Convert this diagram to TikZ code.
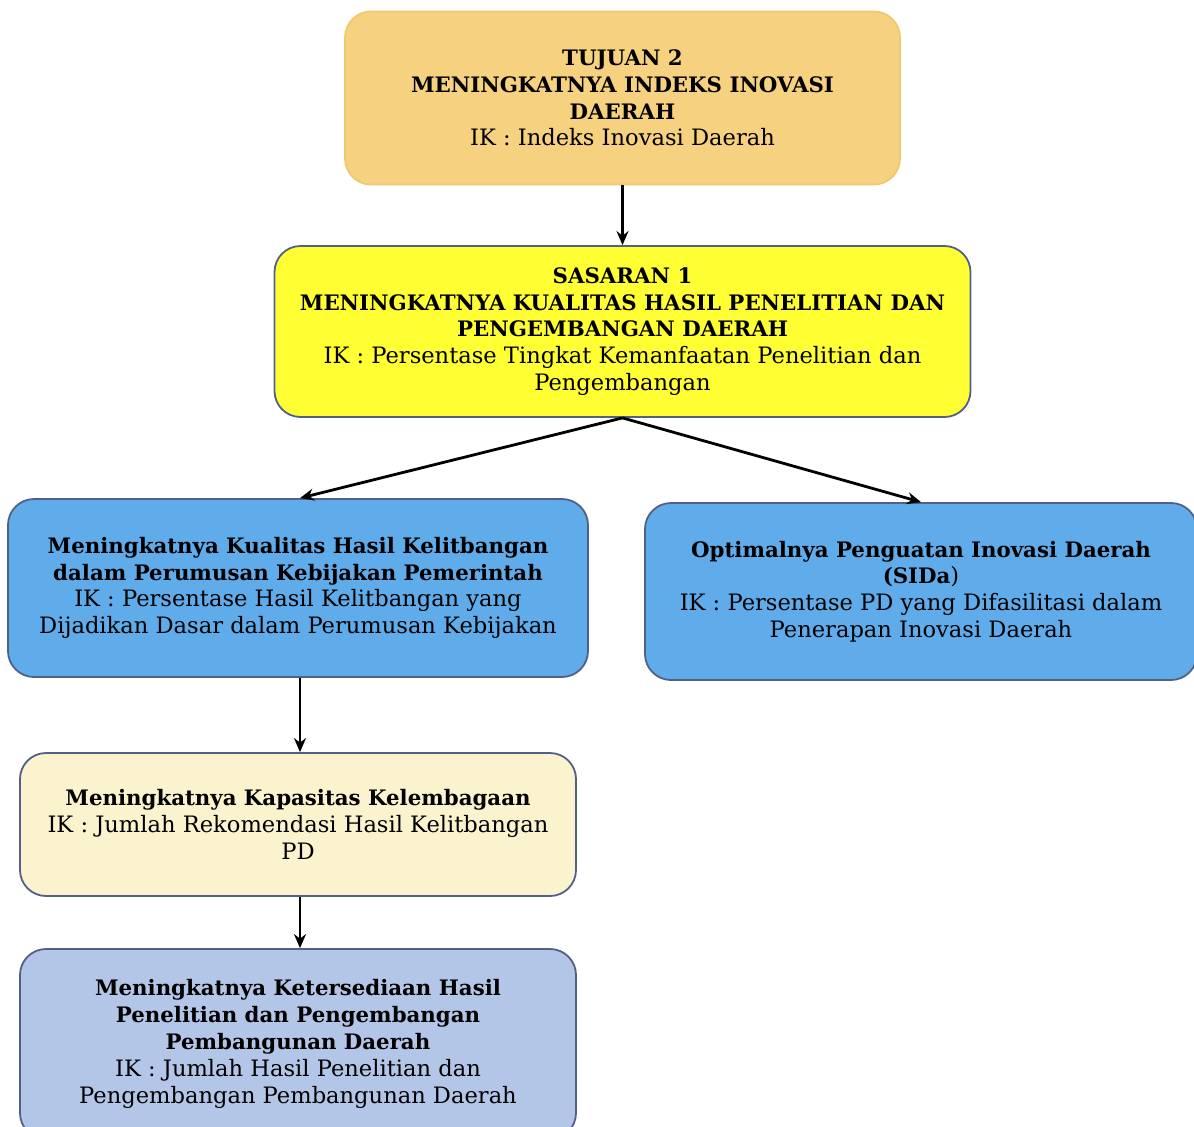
\documentclass[tikz,border=0pt]{standalone}
\usepackage{fontspec}
\setmainfont{DejaVu Serif}
\usetikzlibrary{arrows.meta}
\definecolor{tujuanfill}{RGB}{246,209,128}
\definecolor{tujuanline}{RGB}{240,200,110}
\definecolor{sasaranfill}{RGB}{255,255,51}
\definecolor{boxline}{RGB}{80,96,135}
\definecolor{bluefill}{RGB}{96,172,234}
\definecolor{creamfill}{RGB}{251,242,206}
\definecolor{lavfill}{RGB}{180,198,231}
% heading lines are set bold and slightly smaller than the indicator lines
\newcommand{\hd}[1]{{\fontsize{21.3}{26.8}\selectfont\bfseries #1}}
\tikzset{
  box/.style={draw=boxline, line width=1.8pt, rounded corners=26pt, align=center,
    inner sep=0pt, font=\fontsize{22.6}{26.8}\selectfont},
  link/.style={line width=2.8pt, -{Stealth[length=14pt,width=12pt]}}
}
\begin{document}
\begin{tikzpicture}[x=1pt,y=-1pt]
\useasboundingbox (0,0) rectangle (1194,1127);
% goal
\node[box, draw=tujuanline, fill=tujuanfill, minimum width=555pt, minimum height=173pt] (tuj) at (622.5,98)
  {\hd{TUJUAN 2}\\\hd{MENINGKATNYA INDEKS INOVASI}\\\hd{DAERAH}\\IK : Indeks Inovasi Daerah};
% target
\node[box, fill=sasaranfill, minimum width=696pt, minimum height=171pt] (sas) at (622.5,331.5)
  {\hd{SASARAN 1}\\\hd{MENINGKATNYA KUALITAS HASIL PENELITIAN DAN}\\\hd{PENGEMBANGAN DAERAH}\\IK : Persentase Tingkat Kemanfaatan Penelitian dan\\Pengembangan};
% left branch
\node[box, fill=bluefill, minimum width=580pt, minimum height=178pt] (kel) at (298,588)
  {\hd{Meningkatnya Kualitas Hasil Kelitbangan}\\\hd{dalam Perumusan Kebijakan Pemerintah}\\IK : Persentase Hasil Kelitbangan yang\\Dijadikan Dasar dalam Perumusan Kebijakan};
% right branch
\node[box, fill=bluefill, minimum width=552pt, minimum height=177pt] (sida) at (921,591.5)
  {\hd{Optimalnya Penguatan Inovasi Daerah}\\\hd{(SIDa})\\IK : Persentase PD yang Difasilitasi dalam\\Penerapan Inovasi Daerah};
% institutional capacity
\node[box, fill=creamfill, minimum width=556pt, minimum height=143pt] (kap) at (298,824.5)
  {\hd{Meningkatnya Kapasitas Kelembagaan}\\IK : Jumlah Rekomendasi Hasil Kelitbangan\\PD};
% availability of research results
\node[box, fill=lavfill, minimum width=556pt, minimum height=190pt] (ket) at (298,1044)
  {\hd{Meningkatnya Ketersediaan Hasil}\\\hd{Penelitian dan Pengembangan}\\\hd{Pembangunan Daerah}\\IK : Jumlah Hasil Penelitian dan\\Pengembangan Pembangunan Daerah};
% connectors
\draw[link] (tuj.south) -- (sas.north);
\draw[link] (sas.south) -- ([xshift=2pt]kel.north);
\draw[link] (sas.south) -- (sida.north);
\draw[link] ([xshift=2pt]kel.south) -- ([xshift=2pt]kap.north);
\draw[link] ([xshift=2pt]kap.south) -- ([xshift=2pt]ket.north);
\end{tikzpicture}
\end{document}
